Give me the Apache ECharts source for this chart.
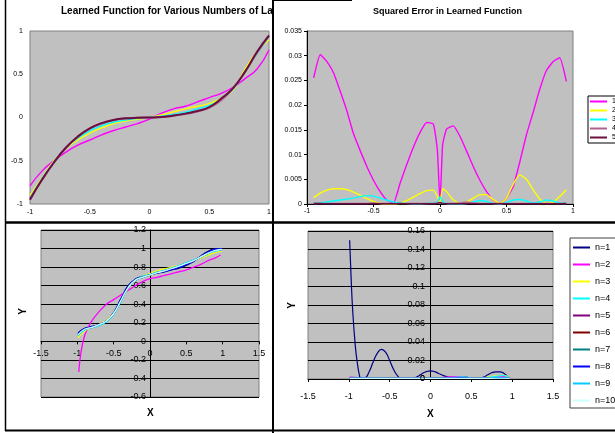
<!DOCTYPE html>
<html><head><meta charset="utf-8">
<script src="https://cdn.jsdelivr.net/npm/echarts@6/dist/echarts.min.js"></script>
<style>html,body{margin:0;padding:0;background:#fff}#c{width:615px;height:433px}</style>
</head><body><div id="c"></div><script>
// ---------- Top-left: Learned Function ----------
var tlX = [-1,-0.9,-0.8,-0.7,-0.6,-0.5,-0.4,-0.3,-0.2,-0.1,0,0.1,0.2,0.3,0.4,0.5,0.6,0.7,0.8,0.9,1];
var tl1 = [-0.79,-0.62,-0.5,-0.4,-0.32,-0.26,-0.2,-0.15,-0.11,-0.07,-0.02,0.05,0.1,0.13,0.18,0.23,0.28,0.35,0.45,0.56,0.78];
var tl2 = [-0.9,-0.7,-0.5,-0.36,-0.26,-0.18,-0.12,-0.07,-0.04,-0.02,0,0.03,0.065,0.1,0.13,0.16,0.22,0.32,0.56,0.76,0.9];
var tl3 = [-0.93,-0.71,-0.51,-0.35,-0.24,-0.155,-0.095,-0.055,-0.03,-0.012,0,0.015,0.035,0.06,0.1,0.14,0.21,0.33,0.53,0.74,0.93];
var tl4 = [-0.94,-0.72,-0.52,-0.35,-0.225,-0.13,-0.07,-0.03,-0.012,-0.004,0,0.005,0.02,0.04,0.07,0.115,0.2,0.34,0.53,0.75,0.94];
var tl5 = [-0.95,-0.72,-0.52,-0.35,-0.22,-0.125,-0.065,-0.028,-0.01,-0.003,0,0.006,0.022,0.045,0.075,0.12,0.22,0.34,0.53,0.76,0.95];

// ---------- Top-right: Squared Error ----------
var trX = [-0.95,-0.9,-0.85,-0.8,-0.75,-0.7,-0.65,-0.6,-0.55,-0.5,-0.45,-0.4,-0.35,-0.3,-0.25,-0.2,-0.15,-0.1,-0.05,-0.02,0,0.02,0.05,0.1,0.15,0.2,0.25,0.3,0.35,0.4,0.45,0.5,0.55,0.6,0.65,0.7,0.75,0.8,0.85,0.9,0.95];
var tr1 = [0.0255,0.0302,0.0288,0.0265,0.0228,0.0188,0.0142,0.0108,0.0076,0.0048,0.0025,0.0008,0.0002,0.0042,0.008,0.0115,0.0145,0.0165,0.0162,0.011,0.0002,0.012,0.0152,0.0158,0.0137,0.0107,0.0076,0.0048,0.0025,0.0008,0.0001,0.0012,0.0035,0.0085,0.014,0.0185,0.0232,0.027,0.0288,0.0296,0.0248];
var tr2 = [0.0013,0.0022,0.0028,0.0031,0.0031,0.0029,0.0024,0.0018,0.0011,0.0005,0.0001,0,0,0.0002,0.0007,0.0014,0.0021,0.0027,0.0028,0.0015,0.0003,0.0031,0.0025,0.0008,0.0001,0.0004,0.0012,0.0019,0.0019,0.0009,0.0001,0.0012,0.004,0.0059,0.005,0.0029,0.001,0.0001,0.0004,0.0015,0.0029];
var tr3 = [0.0001,0.0002,0.0004,0.0006,0.0008,0.001,0.0012,0.0015,0.0017,0.0016,0.0012,0.0008,0.0004,0.0002,0.0001,0,0,0.0001,0.0002,0.0003,0.0015,0.0006,0.0001,0,0,0.0001,0.0004,0.0007,0.0005,0.0001,0,0.0003,0.0008,0.0009,0.0006,0.0002,0.0004,0.0008,0.0006,0.0002,0.0001];
var tr4 = [0.0001,0.0001,0.0001,0.0001,0.0001,0.0001,0.0001,0.0001,0.0001,0.0002,0.0001,0.0001,0.0001,0.0001,0.0001,0.0001,0.0001,0.0001,0.0001,0.0002,0.0003,0.0001,0.0001,0.0001,0.0002,0.0004,0.0002,0.0001,0.0001,0.0001,0.0001,0.0001,0.0001,0.0001,0.0001,0.0001,0.0001,0.0001,0.0001,0.0001,0.0001];
var tr5 = [0.0001,0.0001,0.00005,0.00005,0.00005,0.00005,0.00005,0.00005,0.00005,0.00005,0.00005,0.00005,0.00005,0.0001,0.00005,0.00005,0.00005,0.00005,0.00005,0.0001,0.0003,0.0001,0.00005,0.00005,0.00005,0.00005,0.00005,0.00005,0.00005,0.00005,0.00005,0.00005,0.00005,0.00005,0.00005,0.00005,0.00005,0.00005,0.00005,0.00005,0.0001];

// ---------- Bottom-left: Y vs X ----------
var blX  = [-0.99,-0.9,-0.8,-0.7,-0.6,-0.5,-0.4,-0.3,-0.2,-0.1,0,0.1,0.2,0.3,0.4,0.5,0.6,0.7,0.8,0.9,0.99];
var blXm = [-0.98,-0.95,-0.9,-0.85,-0.8,-0.7,-0.6,-0.5,-0.4,-0.3,-0.2,-0.1,0,0.1,0.2,0.3,0.4,0.5,0.6,0.7,0.8,0.9,0.97];
var bl1  = [0.09,0.14,0.16,0.18,0.22,0.31,0.46,0.6,0.67,0.7,0.72,0.735,0.75,0.77,0.79,0.82,0.86,0.92,0.97,1.0,1.0];
var bl2  = [-0.33,-0.12,0.06,0.15,0.22,0.32,0.4,0.45,0.5,0.55,0.6,0.645,0.675,0.69,0.71,0.73,0.75,0.77,0.8,0.83,0.87,0.9,0.93];
var bl3  = [0.04,0.11,0.15,0.18,0.23,0.31,0.44,0.57,0.66,0.7,0.73,0.76,0.78,0.8,0.82,0.84,0.87,0.9,0.93,0.96,0.97];
var bl4  = [0.06,0.12,0.15,0.17,0.21,0.29,0.43,0.58,0.66,0.7,0.72,0.745,0.765,0.79,0.815,0.845,0.875,0.91,0.95,0.975,0.98];
var bl5  = [0.07,0.13,0.15,0.18,0.22,0.3,0.44,0.58,0.66,0.69,0.715,0.74,0.76,0.785,0.81,0.84,0.87,0.91,0.95,0.98,0.99];
var bl6  = [0.07,0.13,0.15,0.18,0.22,0.3,0.44,0.58,0.66,0.69,0.715,0.74,0.76,0.785,0.81,0.84,0.87,0.91,0.95,0.98,0.99];
var bl7  = [0.07,0.13,0.15,0.18,0.22,0.3,0.44,0.58,0.66,0.69,0.715,0.74,0.76,0.785,0.81,0.84,0.87,0.91,0.95,0.98,0.99];
var bl8  = [0.08,0.135,0.155,0.18,0.22,0.305,0.45,0.59,0.665,0.695,0.718,0.738,0.755,0.775,0.8,0.83,0.865,0.915,0.96,0.99,1.0];
var bl9  = [0.07,0.125,0.15,0.175,0.215,0.295,0.435,0.575,0.66,0.695,0.72,0.745,0.765,0.79,0.815,0.845,0.875,0.91,0.945,0.975,0.985];
var bl10 = [0.07,0.13,0.15,0.18,0.22,0.3,0.44,0.58,0.66,0.69,0.715,0.74,0.76,0.785,0.81,0.84,0.87,0.91,0.95,0.98,0.99];

// ---------- Bottom-right: squared error vs X ----------
var brX1 = [-0.99,-0.97,-0.95,-0.92,-0.9,-0.87,-0.85,-0.8,-0.75,-0.7,-0.65,-0.6,-0.55,-0.5,-0.45,-0.4,-0.35,-0.3,-0.25,-0.2,-0.15,-0.1,-0.05,0,0.05,0.1,0.15,0.2,0.25,0.3,0.35,0.4,0.45,0.5,0.55,0.6,0.65,0.7,0.75,0.8,0.85,0.9,0.95,0.97];
var br1  = [0.15,0.105,0.07,0.035,0.02,0.004,0,0.001,0.008,0.019,0.028,0.032,0.029,0.02,0.01,0.003,0,0,0,0.001,0.003,0.006,0.008,0.0087,0.008,0.006,0.004,0.0025,0.0015,0.0015,0.002,0.0022,0.0018,0.001,0.0002,0.0003,0.002,0.0045,0.0068,0.0078,0.0078,0.006,0.002,0];
var brX  = [-0.99,-0.9,-0.8,-0.7,-0.6,-0.5,-0.4,-0.3,-0.2,-0.1,0,0.1,0.2,0.3,0.4,0.5,0.6,0.7,0.8,0.9,0.97];
var br2  = [0.002,0.0015,0.001,0.001,0.001,0.001,0.001,0.001,0.001,0.001,0.0012,0.0015,0.002,0.0025,0.002,0.001,0.0008,0.0015,0.0025,0.003,0.001];
var br3  = [0.001,0.001,0.001,0.001,0.001,0.0008,0.0008,0.0008,0.0008,0.0008,0.0008,0.0008,0.001,0.0015,0.0015,0.001,0.001,0.002,0.0035,0.004,0.001];
var br4  = [0.001,0.0012,0.001,0.001,0.001,0.0008,0.0008,0.0008,0.0008,0.0008,0.0008,0.001,0.0012,0.0018,0.0022,0.0012,0.0008,0.0015,0.003,0.0038,0.001];
var br5  = [0.0008,0.0008,0.0008,0.0008,0.0008,0.0008,0.0008,0.0008,0.0008,0.0008,0.0008,0.0008,0.0008,0.0008,0.001,0.0008,0.0008,0.001,0.0015,0.0015,0.0008];
var br6  = [0.0008,0.0008,0.0008,0.0008,0.0008,0.0008,0.0008,0.0008,0.0008,0.0008,0.0008,0.0008,0.0008,0.0008,0.0008,0.0008,0.0008,0.001,0.0012,0.0012,0.0008];
var br7  = [0.0008,0.0008,0.0008,0.0008,0.0008,0.0008,0.0008,0.0008,0.0008,0.0008,0.0008,0.0008,0.0008,0.0008,0.0008,0.0008,0.0008,0.0008,0.001,0.001,0.0008];
var br8  = [0.001,0.001,0.0008,0.0008,0.0008,0.0008,0.0008,0.0008,0.0008,0.0008,0.0008,0.0008,0.0008,0.001,0.0012,0.0008,0.0008,0.001,0.0015,0.0015,0.0008];
var br9  = [0.0008,0.0008,0.0008,0.0008,0.0008,0.0008,0.0008,0.0008,0.0008,0.0008,0.0008,0.0008,0.0008,0.0008,0.0008,0.0008,0.0008,0.001,0.0012,0.0012,0.0008];
var br10 = [0.0006,0.0006,0.0006,0.0006,0.0006,0.0006,0.0006,0.0006,0.0006,0.0006,0.0006,0.0006,0.0006,0.0006,0.0006,0.0006,0.0006,0.0006,0.0008,0.0008,0.0006];

var topNames = ['1','2','3','4','5'];
var topColors = ['#FF00FF','#FFFF00','#00FFFF','#B0608F','#6A1040'];
var nNames = ['n=1','n=2','n=3','n=4','n=5','n=6','n=7','n=8','n=9','n=10'];
var nColors = ['#000080','#FF00FF','#FFFF00','#00FFFF','#800080','#800000','#008080','#0000FF','#00CCFF','#CCFFFF'];

var F = 'Liberation Sans, Arial, sans-serif';
function pairs(xs, ys){ return xs.map(function(x,i){ return [x, ys[i]]; }); }

var series = [];
[tl1,tl2,tl3,tl4,tl5].forEach(function(d,i){
  series.push({name:topNames[i], type:'line', xAxisIndex:0, yAxisIndex:0, data:pairs(tlX,d),
    smooth:true, symbol:'none', lineStyle:{color:topColors[i], width:(i>=3?2:1.4)}, itemStyle:{color:topColors[i]}});
});
[tr1,tr2,tr3,tr4,tr5].forEach(function(d,i){
  series.push({name:topNames[i], type:'line', xAxisIndex:1, yAxisIndex:1, data:pairs(trX,d),
    smooth:0.15, symbol:'none', lineStyle:{color:topColors[i], width:1.4}, itemStyle:{color:topColors[i]}});
});
var blData = [bl1,bl2,bl3,bl4,bl5,bl6,bl7,bl8,bl9,bl10];
blData.forEach(function(d,i){
  series.push({name:nNames[i], type:'line', xAxisIndex:2, yAxisIndex:2, data:pairs(i===1?blXm:blX,d),
    smooth:true, symbol:'none', lineStyle:{color:nColors[i], width:1.3}, itemStyle:{color:nColors[i]}});
});
var brData = [br1,br2,br3,br4,br5,br6,br7,br8,br9,br10];
brData.forEach(function(d,i){
  series.push({name:nNames[i], type:'line', xAxisIndex:3, yAxisIndex:3, data:pairs(i===0?brX1:brX,d),
    smooth:true, symbol:'none', lineStyle:{color:nColors[i], width:1.2}, itemStyle:{color:nColors[i]}});
});

var lbl = {color:'#000', fontFamily:F};
var gridStyle = {show:true, backgroundColor:'#C0C0C0', borderColor:'#808080', borderWidth:1};

var option = {
  animation:false,
  backgroundColor:'#fff',
  title:[
    {text:'Learned Function for Various Numbers of La', left:61, top:6, padding:0,
      textStyle:{fontSize:10, fontWeight:'bold', color:'#000', fontFamily:F}},
    {text:'Squared Error in Learned Function', left:373, top:7, padding:0,
      textStyle:{fontSize:9, fontWeight:'bold', color:'#000', fontFamily:F}}
  ],
  legend:[
    {data:topNames, left:588, top:96, orient:'vertical', icon:'rect', itemWidth:17, itemHeight:2, itemGap:2,
      padding:[2,20,2,2], borderColor:'#000', borderWidth:1, backgroundColor:'#fff',
      textStyle:{fontSize:7, lineHeight:7, color:'#000', fontFamily:F}},
    {data:nNames, left:570, top:238, orient:'vertical', icon:'rect', itemWidth:17, itemHeight:2, itemGap:6,
      padding:[4,10,2,3], borderColor:'#404040', borderWidth:1, backgroundColor:'#fff',
      textStyle:{fontSize:9, lineHeight:11, color:'#000', fontFamily:F}}
  ],
  grid:[
    Object.assign({left:30, top:31, width:239, height:173}, gridStyle),
    Object.assign({left:307, top:31, width:266, height:173}, gridStyle),
    Object.assign({left:41, top:230, width:218, height:167}, gridStyle),
    Object.assign({left:308, top:231, width:245, height:148}, gridStyle)
  ],
  xAxis:[
    {type:'value', gridIndex:0, min:-1, max:1, interval:0.5, axisLine:{show:false}, axisTick:{show:false}, splitLine:{show:false},
      axisLabel:Object.assign({fontSize:7, margin:5}, lbl)},
    {type:'value', gridIndex:1, min:-1, max:1, interval:0.5, axisLine:{onZero:false, lineStyle:{color:'#000'}}, axisTick:{length:3, lineStyle:{color:'#000'}}, splitLine:{show:false},
      axisLabel:Object.assign({fontSize:7, margin:4}, lbl)},
    {type:'value', gridIndex:2, min:-1.5, max:1.5, interval:0.5, axisLine:{onZero:true, lineStyle:{color:'#000'}}, axisTick:{length:3, lineStyle:{color:'#000'}}, splitLine:{show:false},
      axisLabel:Object.assign({fontSize:9, margin:-48}, lbl)},
    {type:'value', gridIndex:3, min:-1.5, max:1.5, interval:0.5, axisLine:{onZero:true, lineStyle:{color:'#000'}}, axisTick:{length:3, lineStyle:{color:'#000'}}, splitLine:{show:false},
      axisLabel:Object.assign({fontSize:9, margin:13}, lbl)}
  ],
  yAxis:[
    {type:'value', gridIndex:0, min:-1, max:1, interval:0.5, axisLine:{show:false}, axisTick:{show:false}, splitLine:{show:false},
      axisLabel:Object.assign({fontSize:7, margin:7}, lbl)},
    {type:'value', gridIndex:1, min:0, max:0.035, interval:0.005, axisLine:{show:true, onZero:false, lineStyle:{color:'#000'}}, axisTick:{show:true, length:3, lineStyle:{color:'#000'}}, splitLine:{show:false},
      axisLabel:Object.assign({fontSize:7, margin:5}, lbl)},
    {type:'value', gridIndex:2, min:-0.6, max:1.2, interval:0.2, axisLine:{show:true, onZero:true, lineStyle:{color:'#000'}}, axisTick:{show:true, length:3, lineStyle:{color:'#000'}},
      splitLine:{show:true, lineStyle:{color:'#000', width:1}},
      axisLabel:Object.assign({fontSize:9, margin:-105, showMinLabel:true, showMaxLabel:true}, lbl)},
    {type:'value', gridIndex:3, min:0, max:0.16, interval:0.02, axisLine:{show:true, onZero:true, lineStyle:{color:'#000'}}, axisTick:{show:true, length:3, lineStyle:{color:'#000'}},
      splitLine:{show:true, lineStyle:{color:'#000', width:1}},
      axisLabel:Object.assign({fontSize:9, margin:-117, showMinLabel:true, showMaxLabel:true}, lbl)}
  ],
  series:series,
  graphic:[
    {type:'text', left:18, top:308, rotation:Math.PI/2, style:{text:'Y', font:'bold 10px '+F, fill:'#000'}},
    {type:'text', left:147, top:408, style:{text:'X', font:'bold 10px '+F, fill:'#000'}},
    {type:'text', left:287, top:302, rotation:Math.PI/2, style:{text:'Y', font:'bold 10px '+F, fill:'#000'}},
    {type:'text', left:427, top:409, style:{text:'X', font:'bold 10px '+F, fill:'#000'}},
    {type:'text', left:420, top:374, z:50, style:{text:'0', font:'9px '+F, fill:'#000'}},
    {type:'line', shape:{x1:5.5, y1:0, x2:5.5, y2:431}, style:{stroke:'#000', lineWidth:1.5}, z:100},
    {type:'line', shape:{x1:273, y1:0, x2:273, y2:433}, style:{stroke:'#000', lineWidth:2}, z:100},
    {type:'line', shape:{x1:5, y1:222.5, x2:615, y2:222.5}, style:{stroke:'#000', lineWidth:2.5}, z:100},
    {type:'line', shape:{x1:5, y1:430.5, x2:615, y2:430.5}, style:{stroke:'#000', lineWidth:2}, z:100},
    {type:'line', shape:{x1:273, y1:0.5, x2:352, y2:0.5}, style:{stroke:'#000', lineWidth:1}, z:100}
  ]
};
var chart = echarts.init(document.getElementById('c'), null, {renderer:'canvas'});
chart.setOption(option);
</script></body></html>
